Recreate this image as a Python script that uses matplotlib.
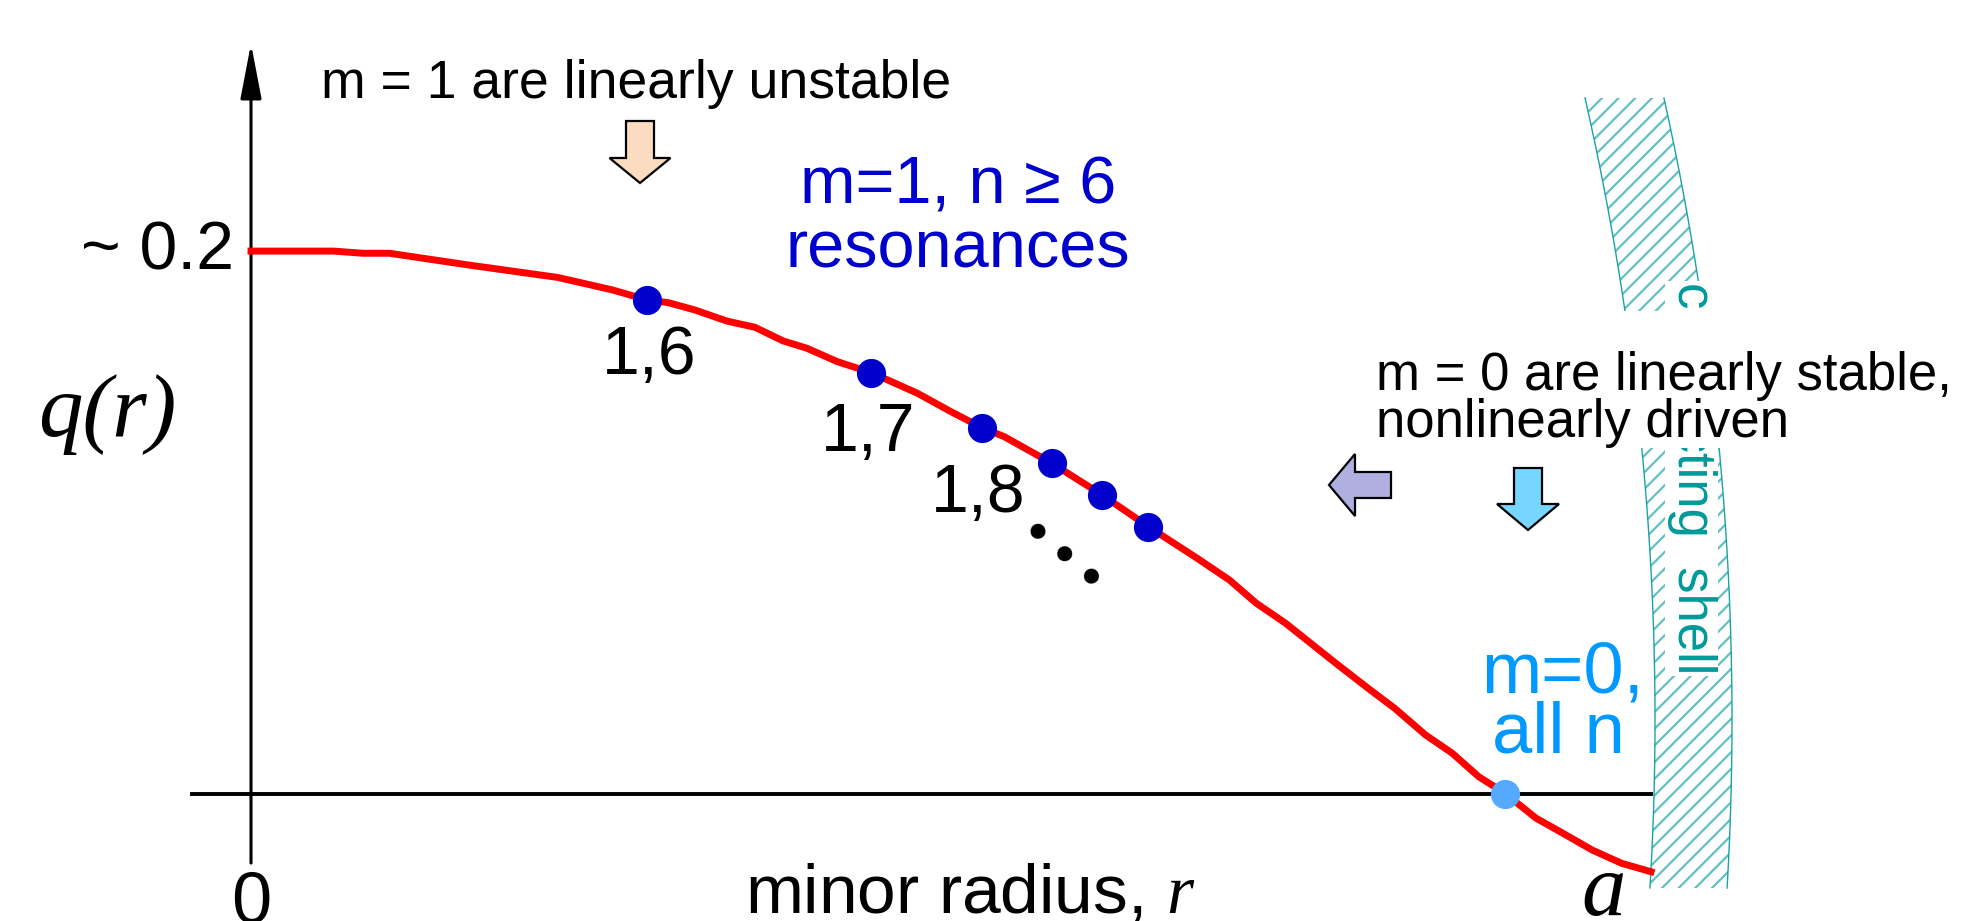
import numpy as np
import matplotlib
matplotlib.use('Agg')
import matplotlib.pyplot as plt
from matplotlib.patches import Polygon, Rectangle

plt.rcParams['font.family'] = ['Liberation Sans', 'DejaVu Sans']
plt.rcParams['mathtext.fontset'] = 'custom'
plt.rcParams['mathtext.it'] = 'Liberation Serif:italic'
plt.rcParams['mathtext.rm'] = 'Liberation Sans'
plt.rcParams['hatch.linewidth'] = 1.6

# q profile vs normalised minor radius r/a
r_prof = [0.0, 0.059, 0.080, 0.099, 0.155, 0.219, 0.258, 0.283, 0.298, 0.317,
          0.340, 0.360, 0.380, 0.397, 0.419, 0.443, 0.476, 0.500, 0.522, 0.538,
          0.572, 0.608, 0.641, 0.676, 0.699, 0.718, 0.739, 0.775, 0.798, 0.817,
          0.839, 0.858, 0.877, 0.896, 0.918, 0.937, 0.958, 0.979, 1.0]
q_prof = [0.200, 0.200, 0.1992, 0.1992, 0.1949, 0.1903, 0.1857, 0.1820, 0.1810, 0.1783,
          0.1742, 0.1719, 0.1669, 0.1642, 0.1592, 0.1552, 0.1476, 0.1408, 0.1349, 0.1316,
          0.1218, 0.1101, 0.0984, 0.0867, 0.0787, 0.0702, 0.0628, 0.0480, 0.0388, 0.0314,
          0.0216, 0.0149, 0.0062, 0.0, -0.0091, -0.0146, -0.0208, -0.0257, -0.0288]

# m=1 resonant surfaces (n = 6, 7, 8, ...)
r_m1 = [0.283, 0.443, 0.522, 0.572, 0.608, 0.641]
q_m1 = [0.1820, 0.1552, 0.1349, 0.1218, 0.1101, 0.0984]
m1_labels = ['1,6', '1,7', '1,8']

# m=0 resonance (q = 0 reversal surface)
r_m0 = [0.896]
q_m0 = [0.0]

# pixel scale of the drawing (px per unit r, px per unit q)
SX, SY = 1400.0, 2712.5

fig = plt.figure(figsize=(19.69, 9.21), dpi=100)
ax = fig.add_axes([0, 0, 1, 1])
ax.set_xlim(-0.17929, 1.22714)
ax.set_ylim(-0.04697, 0.29257)
ax.axis('off')


def px2data(xp, yp):
    # figure pixels (from top-left) -> (r, q)
    xp = np.asarray(xp, float)
    yp = np.asarray(yp, float)
    return (xp - 251.0) / SX, (793.6 - yp) / SY


def block_arrow(tip, direction, length, shaft_w, head_w, head_len, color):
    tx, ty = tip
    if direction == 'down':
        pts = [(tx, ty), (tx - head_w / 2, ty - head_len), (tx - shaft_w / 2, ty - head_len),
               (tx - shaft_w / 2, ty - length), (tx + shaft_w / 2, ty - length),
               (tx + shaft_w / 2, ty - head_len), (tx + head_w / 2, ty - head_len)]
    else:  # left
        pts = [(tx, ty), (tx + head_len, ty - head_w / 2), (tx + head_len, ty - shaft_w / 2),
               (tx + length, ty - shaft_w / 2), (tx + length, ty + shaft_w / 2),
               (tx + head_len, ty + shaft_w / 2), (tx + head_len, ty + head_w / 2)]
    xs, ys = px2data([p[0] for p in pts], [p[1] for p in pts])
    ax.add_patch(Polygon(np.column_stack([xs, ys]), closed=True, facecolor=color,
                         edgecolor='black', lw=1.6, zorder=6))


# conducting shell: arc band of a large circle
yy = np.linspace(98, 888, 200)
cx, cy, r_in, r_out = -1145.0, 720.0, 2800.0, 2877.0
x_in = cx + np.sqrt(r_in ** 2 - (yy - cy) ** 2)
x_out = cx + np.sqrt(r_out ** 2 - (yy - cy) ** 2)
sx_in, sy_in = px2data(x_in, yy)
sx_out, sy_out = px2data(x_out, yy)
band = np.column_stack([np.concatenate([sx_in, sx_out[::-1]]),
                        np.concatenate([sy_in, sy_out[::-1]])])
ax.add_patch(Polygon(band, closed=True, facecolor='none', edgecolor='#62c0c0',
                     hatch='//', lw=0, zorder=1))
ax.plot(sx_in, sy_in, color='#1aa3a3', lw=1.0, zorder=1)
ax.plot(sx_out, sy_out, color='#1aa3a3', lw=1.0, zorder=1)
ax.text(1.029, 0.1885, 'conducting  shell', rotation=270, ha='center', va='top',
        fontsize=38, color='#009999', zorder=2,
        bbox=dict(facecolor='white', edgecolor='none', pad=1))

# axes
ax.plot([-0.042, 1.0], [0, 0], color='black', lw=2.8, zorder=3)
ax.annotate('', xy=(0, 0.2765), xytext=(0, -0.0256),
            arrowprops=dict(arrowstyle='-|>,head_length=3.4,head_width=0.65',
                            mutation_scale=10, color='black', lw=2.2, shrinkA=0, shrinkB=0),
            zorder=3)

# q profile and resonances
ax.plot(r_prof, q_prof, color='#ff0000', lw=5, solid_joinstyle='round', zorder=4)
ax.plot(r_m1, q_m1, 'o', color='#0000cc', ms=21, mec='none', zorder=5)
ax.plot(r_m0, q_m0, 'o', color='#55aaff', ms=21, mec='none', zorder=5)

lab_off = [(0.0016, -0.0205), (-0.0023, -0.0224), (-0.0027, -0.0246)]
for (rr, qq), (dx, dy), lab in zip(zip(r_m1, q_m1), lab_off, m1_labels):
    ax.text(rr + dx, qq + dy, lab, ha='center', va='center', fontsize=49)
ax.text(0.5786, 0.0872, '\u2022 \u2022 \u2022', rotation=-40, ha='center', va='center',
        fontsize=40)

# labels
ax.text(-0.012, 0.200, '~ 0.2', ha='right', va='center', fontsize=49)
ax.text(-0.103, 0.1396, 'q(r)', ha='center', va='center', fontsize=64,
        family='Liberation Serif', style='italic')
ax.text(0.0, -0.0282, '0', ha='center', va='top', fontsize=52)
ax.text(0.3529, -0.0440, r'minor radius, $\mathit{r}$', ha='left', va='baseline',
        fontsize=50)
ax.text(0.966, -0.0447, 'a', ha='center', va='baseline', fontsize=64,
        family='Liberation Serif', style='italic')

ax.text(0.275, 0.2564, 'm = 1 are linearly unstable', ha='center', va='baseline',
        fontsize=38.5)
block_arrow((640, 183), 'down', 62, 28, 61, 25, '#fbdcc0')

ax.text(0.505, 0.2177, 'm=1, n \u2265 6', ha='center', va='baseline', fontsize=48,
        color='#0000cc')
ax.text(0.505, 0.1938, 'resonances', ha='center', va='baseline', fontsize=48,
        color='#0000cc')

# white panel behind the m=0 note (cuts the shell)
bx0, by0 = px2data(1368, 448)
bx1, by1 = px2data(1969, 311)
ax.add_patch(Rectangle((bx0, by0), bx1 - bx0, by1 - by0, facecolor='white',
                       edgecolor='none', zorder=6.5))
ax.text(0.8036, 0.1488, 'm = 0 are linearly stable,', ha='left', va='baseline',
        fontsize=38, zorder=7)
ax.text(0.8036, 0.1315, 'nonlinearly driven', ha='left', va='baseline',
        fontsize=38, zorder=7)
block_arrow((1329, 485), 'left', 62, 26, 62, 26, '#b0b0e0')
block_arrow((1528, 530), 'down', 62, 28, 62, 26, '#77d6ff')

ax.text(0.937, 0.0371, 'm=0,', ha='center', va='baseline', fontsize=52,
        color='#0099ff')
ax.text(0.934, 0.0150, 'all n', ha='center', va='baseline', fontsize=52,
        color='#0099ff')

fig.savefig('out.png', dpi=100, facecolor='white')
